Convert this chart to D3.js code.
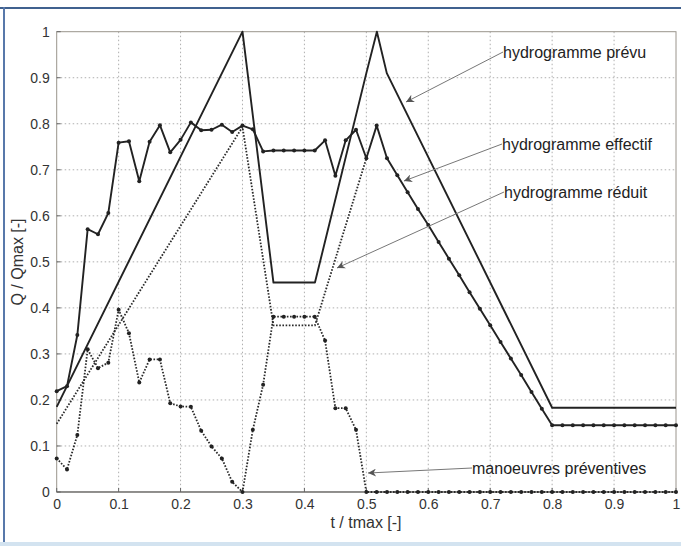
<!DOCTYPE html>
<html>
<head>
<meta charset="utf-8">
<script src="https://cdn.jsdelivr.net/npm/d3@7"></script>
<style>
  body { margin: 0; background: #fff; }
  svg { display: block; font-family: "Liberation Sans", Arial, sans-serif; }
  .grid line { stroke: #9a9a9a; stroke-width: 0.8; stroke-dasharray: 1.5,2.5; }
  .axis text { fill: #333; font-size: 14px; }
  .axis path, .axis line { stroke: none; }
</style>
</head>
<body>
<svg id="chart"></svg>
<script>
// time steps are 1/60 of tmax
var steps = d3.range(61);

// hydrogramme effectif (solid line with markers), one value per step
var effectif = [0.219, 0.230, 0.341, 0.571, 0.560, 0.606, 0.759, 0.762, 0.675, 0.761,
                0.797, 0.738, 0.765, 0.803, 0.786, 0.787, 0.798, 0.782, 0.796, 0.788,
                0.740, 0.742, 0.742, 0.742, 0.742, 0.742, 0.764, 0.687, 0.764, 0.787,
                0.725, 0.796, 0.725, 0.688, 0.651, 0.615, 0.580, 0.543, 0.507, 0.471,
                0.434, 0.398, 0.362, 0.326, 0.290, 0.254, 0.217, 0.181, 0.145, 0.145,
                0.145, 0.145, 0.145, 0.145, 0.145, 0.145, 0.145, 0.145, 0.145, 0.145, 0.145];

// manoeuvres preventives (dotted line with markers)
var manoeuvres = [0.073, 0.049, 0.124, 0.310, 0.269, 0.281, 0.396, 0.345, 0.238, 0.288,
                  0.288, 0.193, 0.186, 0.185, 0.133, 0.099, 0.073, 0.022, 0.000, 0.135,
                  0.233, 0.381, 0.381, 0.381, 0.381, 0.381, 0.329, 0.182, 0.182, 0.135,
                  0, 0, 0, 0, 0, 0, 0, 0, 0, 0, 0, 0, 0, 0, 0, 0, 0, 0, 0, 0,
                  0, 0, 0, 0, 0, 0, 0, 0, 0, 0, 0];

// hydrogramme prevu (solid, no markers)
var prevuT = [0, 0.3, 0.35, 0.417, 0.5, 0.517, 0.533, 0.8, 1];
var prevuV = [0.185, 1.0, 0.455, 0.455, 0.91, 1.0, 0.91, 0.183, 0.183];

// hydrogramme reduit (dotted, no markers)
var reduitT = [0, 0.3, 0.35, 0.417, 0.5];
var reduitV = [0.148, 0.793, 0.362, 0.362, 0.725];

var tickValues = [0, 0.1, 0.2, 0.3, 0.4, 0.5, 0.6, 0.7, 0.8, 0.9, 1];

var labels = [
    {text: "hydrogramme prévu",      tx: 503, ty: 58,  ax: 406, ay: 102},
    {text: "hydrogramme effectif",   tx: 502, ty: 150, ax: 404, ay: 181},
    {text: "hydrogramme réduit",     tx: 504, ty: 198, ax: 337, ay: 268},
    {text: "manoeuvres préventives", tx: 472, ty: 474, ax: 368, ay: 473}
];

var W = 681, H = 546;
var margin = {top: 31.7, right: 5, bottom: 54, left: 56.7};
var width = 676 - margin.left,
    height = 492 - margin.top;

var svg = d3.select("#chart").attr("width", W).attr("height", H);

// outer frame of the figure
svg.append("rect").attr("x", 0).attr("y", 542).attr("width", W).attr("height", 4).attr("fill", "#d3e3f0");
svg.append("line").attr("x1", 0).attr("x2", W).attr("y1", 8).attr("y2", 8)
    .attr("stroke", "#40618f").attr("stroke-width", 2);
svg.append("line").attr("x1", 4).attr("x2", 4).attr("y1", 7).attr("y2", 542)
    .attr("stroke", "#5878aa").attr("stroke-width", 2);

var g = svg.append("g").attr("transform", "translate(" + margin.left + "," + margin.top + ")");

var x = d3.scaleLinear().domain([0, 1]).range([0, width]);
var y = d3.scaleLinear().domain([0, 1]).range([height, 0]);

// grid
var grid = g.append("g").attr("class", "grid");
grid.selectAll(".vx").data(tickValues.slice(1, -1)).enter().append("line")
    .attr("x1", d => x(d)).attr("x2", d => x(d)).attr("y1", 0).attr("y2", height);
grid.selectAll(".hy").data(tickValues.slice(1, -1)).enter().append("line")
    .attr("y1", d => y(d)).attr("y2", d => y(d)).attr("x1", 0).attr("x2", width);

// box
g.append("rect").attr("width", width).attr("height", height)
    .attr("fill", "none").attr("stroke", "#9a948c").attr("stroke-width", 1);
g.append("line").attr("x1", 0).attr("x2", width).attr("y1", height).attr("y2", height)
    .attr("stroke", "#555").attr("stroke-width", 1);

// inward ticks
var ticks = g.append("g").attr("stroke", "#666").attr("stroke-width", 1);
tickValues.forEach(function(d) {
    ticks.append("line").attr("x1", x(d)).attr("x2", x(d)).attr("y1", height).attr("y2", height - 4);
    ticks.append("line").attr("y1", y(d)).attr("y2", y(d)).attr("x1", 0).attr("x2", 4);
});

var fmt = function(d) { return String(+d.toFixed(1)); };

g.append("g").attr("class", "axis").attr("transform", "translate(0," + height + ")")
    .call(d3.axisBottom(x).tickValues(tickValues).tickFormat(fmt).tickSize(0).tickPadding(7));
g.append("g").attr("class", "axis")
    .call(d3.axisLeft(y).tickValues(tickValues).tickFormat(fmt).tickSize(0).tickPadding(7));

svg.append("text").attr("x", 366).attr("y", 528).attr("text-anchor", "middle")
    .attr("fill", "#333").style("font-size", "16px").text("t / tmax [-]");
svg.append("text").attr("transform", "translate(23,262) rotate(-90)").attr("text-anchor", "middle")
    .attr("fill", "#333").style("font-size", "16px").text("Q / Qmax [-]");

var line = d3.line().x(d => x(d[0])).y(d => y(d[1]));

var effPts = steps.map(i => [i / 60, effectif[i]]);
var manPts = steps.map(i => [i / 60, manoeuvres[i]]);
var prevuPts = prevuT.map((t, i) => [t, prevuV[i]]);
var reduitPts = reduitT.map((t, i) => [t, reduitV[i]]);

g.append("path").datum(reduitPts).attr("d", line)
    .attr("fill", "none").attr("stroke", "#2a2a2a").attr("stroke-width", 1.8).attr("stroke-dasharray", "1.6,1.6");
g.append("path").datum(manPts).attr("d", line)
    .attr("fill", "none").attr("stroke", "#2a2a2a").attr("stroke-width", 1.8).attr("stroke-dasharray", "1.6,1.6");
g.append("path").datum(prevuPts).attr("d", line)
    .attr("fill", "none").attr("stroke", "#222").attr("stroke-width", 1.9).attr("stroke-linejoin", "round");
g.append("path").datum(effPts).attr("d", line)
    .attr("fill", "none").attr("stroke", "#222").attr("stroke-width", 1.9).attr("stroke-linejoin", "round");

g.selectAll(".me").data(effPts).enter().append("circle")
    .attr("cx", d => x(d[0])).attr("cy", d => y(d[1])).attr("r", 2).attr("fill", "#222");
g.selectAll(".mm").data(manPts).enter().append("circle")
    .attr("cx", d => x(d[0])).attr("cy", d => y(d[1])).attr("r", 2).attr("fill", "#222");

// annotations with arrows
svg.append("defs").append("marker").attr("id", "arr")
    .attr("viewBox", "0 0 10 10").attr("refX", 10).attr("refY", 5)
    .attr("markerWidth", 11).attr("markerHeight", 8).attr("markerUnits", "userSpaceOnUse")
    .attr("orient", "auto")
    .append("path").attr("d", "M0,0L10,5L0,10L3,5Z").attr("fill", "#555");

labels.forEach(function(l) {
    svg.append("line").attr("x1", l.tx).attr("y1", l.ty - 6).attr("x2", l.ax).attr("y2", l.ay)
        .attr("stroke", "#777").attr("stroke-width", 1).attr("marker-end", "url(#arr)");
    svg.append("text").attr("x", l.tx).attr("y", l.ty).attr("fill", "#222")
        .style("font-size", "16px").text(l.text);
});
</script>
</body>
</html>
